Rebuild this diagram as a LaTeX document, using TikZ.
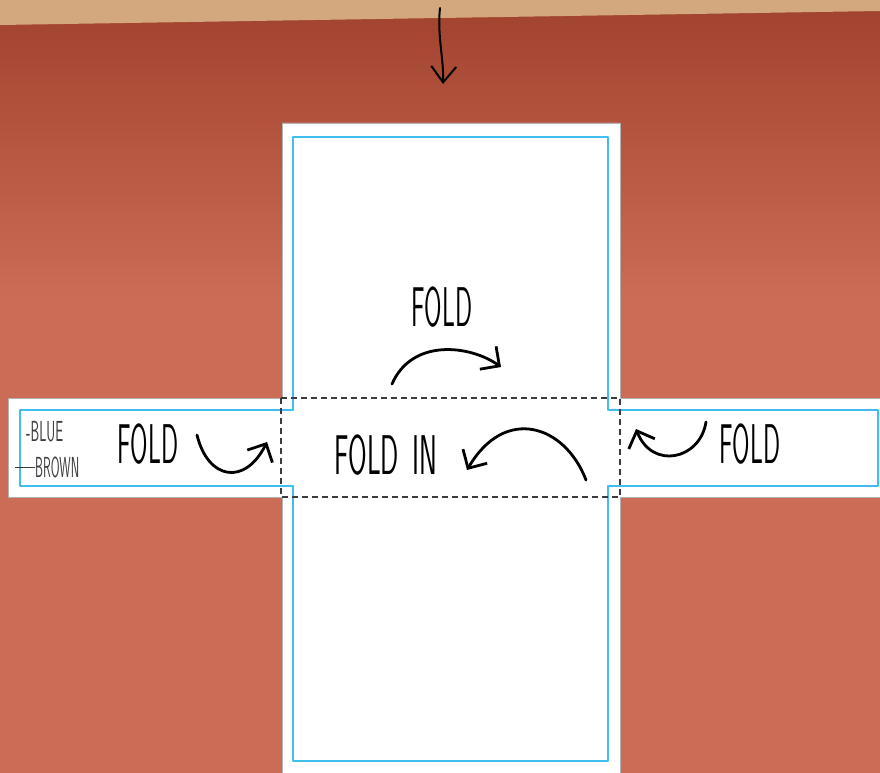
\documentclass[tikz,border=0pt]{standalone}
\usepackage{tikz}
\usetikzlibrary{arrows.meta, positioning}
\definecolor{rustbrown}{RGB}{160,66,45}
\definecolor{salmonbrown}{RGB}{203,108,86}
\definecolor{kraftpaper}{RGB}{212,168,126}
\definecolor{cutblue}{RGB}{64,190,238}
\definecolor{inkgray}{RGB}{60,60,60}
\newcommand{\squeeze}[2][0.45]{\scalebox{#1}[1]{#2}}

\begin{document}
\begin{tikzpicture}[x=1pt, y=-1pt, line join=round,
    handtext/.style={inner sep=0pt, font=\sffamily\fontsize{56}{56}\selectfont},
    smalltext/.style={inner sep=0pt, text=inkgray, font=\sffamily\fontsize{29}{29}\selectfont},
    penarrow/.style={line width=2.8pt, line cap=round, -{Straight Barb[length=14pt, width=28pt]}}]
    \useasboundingbox (0,0) rectangle (880,773);
    \fill[salmonbrown] (0,0) rectangle (880,773);
    \shade[top color=rustbrown, bottom color=salmonbrown] (0,0) rectangle (880,300);
    \fill[kraftpaper] (0,0) -- (880,0) -- (880,11) -- (0,25) -- cycle;

    % paper cross and cut line
    \filldraw[fill=white, draw=gray!60, line width=0.6pt] (282,123) -- (620,123) -- (620,398) -- (880,398) -- (880,497) -- (620,497) -- (620,773) -- (282,773) -- (282,497) -- (8,497) -- (8,398) -- (282,398) -- cycle;
    \draw[cutblue, line width=1.3pt] (293,137) -- (608,137) -- (608,410) -- (878,410) -- (878,486) -- (608,486) -- (608,761) -- (293,761) -- (293,486) -- (20,486) -- (20,410) -- (293,410) -- cycle;
    \draw[inkgray, line width=1.3pt, dash pattern=on 6pt off 4pt] (281,398) rectangle (620,497);

    \node[handtext] (foldtop) at (442,307) {\squeeze{FOLD}};
    \node[handtext] (foldleft) at (148,444) {\squeeze{FOLD}};
    \node[handtext] (foldin) at (386,455) {\squeeze[0.48]{FOLD\hspace{28pt}IN}};
    \node[handtext] (foldright) at (750,444) {\squeeze{FOLD}};

    \node[smalltext, anchor=west] (bluelabel) at (26,432) {\squeeze[0.48]{-BLUE}};
    \node[smalltext, anchor=west] (brownlabel) at (35,467) {\squeeze[0.44]{BROWN}};
    \coordinate (brownlead) at (15,467);
    \draw[inkgray, line width=0.9pt] (brownlead) -- (brownlabel.west);

    \coordinate (toptail) at (440,8);
    \coordinate (toptip) at (443,84);
    \draw[penarrow, line width=2pt, -{Straight Barb[length=16pt, width=25pt]}] (toptail) .. controls (437,35) and (444,60) .. (toptip);

    \coordinate (uppertail) at (392,384);
    \coordinate (uppertip) at (501,367);
    \draw[penarrow] (uppertail) .. controls (412,338) and (470,345) .. (uppertip);

    \coordinate (lefttail) at (197,435);
    \coordinate (lefttip) at (267,442);
    \draw[penarrow] (lefttail) .. controls (208,480) and (245,486) .. (lefttip);

    \coordinate (midtail) at (586,480);
    \coordinate (midtip) at (467,470);
    \draw[penarrow] (midtail) .. controls (565,425) and (505,405) .. (midtip);

    \coordinate (righttail) at (706,422);
    \coordinate (righttip) at (636,429);
    \draw[penarrow] (righttail) .. controls (700,460) and (652,470) .. (righttip);
\end{tikzpicture}
\end{document}
